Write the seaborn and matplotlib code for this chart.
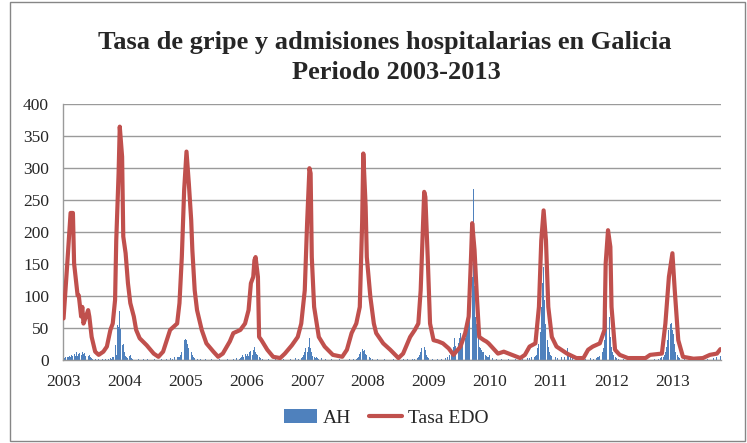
import matplotlib
matplotlib.use("Agg")
import matplotlib.pyplot as plt
import seaborn as sns
from matplotlib.patches import Patch, Rectangle
from matplotlib.lines import Line2D

# weekly series, week 0 = first week of 2003
n_weeks = 562
years = [str(y) for y in range(2003, 2014)]
year_weeks = [0, 52, 104, 156, 208, 260, 312, 364, 416, 468, 520]

# Tasa EDO (week, rate)
tasa_points = [
    (0, 65), (3, 146), (6, 230), (8, 230), (9, 151), (12, 101), (13, 101), (15, 68),
    (16, 83), (17, 57), (18, 62), (21, 78), (22, 68), (24, 36), (27, 13), (30, 8),
    (34, 13), (37, 21), (40, 47), (42, 57), (44, 94), (45, 187), (47, 292), (48, 365),
    (50, 318), (51, 193), (53, 167), (55, 120), (57, 89), (60, 68), (62, 47), (65, 34),
    (71, 23), (77, 10), (81, 5), (85, 13), (91, 47), (97, 57), (99, 89), (101, 161),
    (103, 266), (105, 326), (107, 276), (109, 219), (110, 172), (112, 109), (114, 78),
    (118, 47), (122, 26), (128, 13), (132, 5), (136, 10), (142, 29), (145, 42),
    (151, 47), (155, 57), (158, 78), (160, 120), (162, 130), (163, 156), (164, 161),
    (166, 130), (167, 36), (169, 31), (174, 16), (179, 5), (185, 3), (189, 10),
    (195, 23), (200, 36), (203, 57), (206, 109), (208, 214), (210, 300), (211, 292),
    (212, 161), (214, 83), (218, 36), (223, 21), (230, 8), (238, 5), (242, 16),
    (246, 42), (250, 57), (253, 83), (255, 214), (256, 323), (258, 240), (259, 161),
    (262, 99), (265, 57), (267, 42), (273, 26), (279, 16), (286, 3), (290, 10),
    (296, 36), (300, 47), (303, 57), (305, 109), (307, 214), (308, 263), (309, 255),
    (311, 161), (313, 57), (316, 31), (320, 29), (324, 26), (329, 18), (333, 8),
    (339, 21), (343, 42), (346, 68), (348, 161), (349, 214), (351, 172), (353, 99),
    (355, 36), (359, 31), (361, 29), (363, 26), (367, 18), (371, 10), (376, 13),
    (383, 8), (390, 3), (394, 8), (398, 21), (403, 26), (406, 83), (408, 187),
    (410, 234), (412, 187), (414, 83), (417, 36), (421, 21), (430, 10), (438, 3),
    (444, 3), (448, 16), (452, 21), (458, 26), (462, 47), (463, 151), (465, 203),
    (467, 177), (468, 83), (471, 16), (475, 8), (482, 3), (497, 3), (501, 8),
    (511, 10), (514, 57), (517, 130), (520, 167), (522, 109), (525, 31), (529, 5),
    (538, 2), (546, 3), (552, 8), (558, 10), (561, 17),
]

# AH hospital admissions (week, count)
ah_points = [
    (1, 3), (2, 4), (3, 5), (4, 4), (5, 7), (6, 5), (7, 8), (8, 6), (9, 10), (10, 7),
    (11, 12), (12, 6), (13, 9), (14, 11), (15, 8), (16, 12), (17, 10), (18, 11),
    (19, 7), (20, 12), (21, 6), (22, 8), (23, 4), (24, 3), (25, 2), (27, 1), (30, 1),
    (33, 2), (36, 1), (38, 2),
    (40, 3), (41, 2), (42, 4), (43, 5), (44, 23), (45, 8), (46, 55), (47, 52),
    (48, 76), (49, 49), (50, 23), (51, 25), (52, 13), (53, 6), (54, 4), (55, 3),
    (56, 6), (57, 8), (58, 3), (59, 2), (61, 2), (64, 1), (68, 1), (72, 2), (78, 1),
    (84, 2), (88, 2),
    (91, 3), (93, 2), (95, 4), (97, 5), (98, 4), (99, 5), (100, 8), (101, 12),
    (102, 23), (103, 32), (104, 33), (105, 31), (106, 25), (107, 18), (108, 19),
    (109, 13), (110, 8), (111, 5), (112, 3), (114, 2), (117, 1), (121, 2), (126, 1),
    (133, 1), (140, 2), (145, 2),
    (148, 3), (150, 2), (151, 3), (152, 5), (153, 8), (154, 4), (155, 9), (156, 6),
    (157, 10), (158, 7), (159, 13), (160, 14), (161, 8), (162, 16), (163, 21),
    (164, 12), (165, 9), (166, 8), (167, 5), (168, 3), (170, 2), (175, 1), (181, 1),
    (188, 2), (194, 2), (198, 3),
    (201, 2), (203, 3), (204, 5), (205, 8), (206, 13), (207, 18), (208, 12),
    (209, 20), (210, 34), (211, 18), (212, 13), (213, 6), (214, 4), (215, 3),
    (216, 4), (217, 3), (218, 2), (220, 3), (224, 2), (229, 1), (236, 1), (244, 2),
    (248, 2), (250, 2), (251, 3), (252, 5), (253, 10), (254, 13), (255, 17),
    (256, 14), (257, 15), (258, 10), (259, 8), (260, 5), (261, 4), (262, 3),
    (264, 2), (268, 2), (274, 1), (282, 1), (290, 2), (294, 2),
    (298, 2), (300, 2), (302, 3), (303, 5), (304, 8), (305, 12), (306, 18),
    (307, 29), (308, 21), (309, 16), (310, 8), (311, 5), (312, 3), (315, 2),
    (319, 2), (323, 2), (326, 3), (328, 4),
    (330, 8), (331, 10), (332, 12), (333, 20), (334, 34), (335, 22), (336, 28),
    (337, 26), (338, 35), (339, 42), (340, 30), (341, 28), (342, 25), (343, 35),
    (344, 40), (345, 49), (346, 57), (347, 73), (348, 94), (349, 130), (350, 267),
    (351, 115), (352, 68), (353, 57), (354, 36), (355, 21), (356, 18), (357, 16),
    (358, 12), (359, 13), (360, 8), (361, 6), (362, 5), (363, 4), (364, 8),
    (366, 3), (370, 2), (374, 2), (380, 1), (386, 2), (392, 2), (396, 3),
    (398, 3), (400, 4), (402, 5), (403, 6), (404, 8), (405, 18), (406, 25),
    (407, 44), (408, 83), (409, 120), (410, 145), (411, 94), (412, 57), (413, 31),
    (414, 21), (415, 12), (416, 8), (417, 6), (418, 5), (420, 4), (422, 3),
    (425, 5), (428, 4), (430, 18), (431, 8), (433, 5), (435, 3), (438, 2),
    (442, 2), (446, 2), (450, 3),
    (453, 2), (455, 3), (456, 4), (457, 5), (458, 6), (459, 8), (460, 12),
    (461, 18), (462, 31), (463, 50), (464, 78), (465, 86), (466, 68), (467, 36),
    (468, 21), (469, 12), (470, 8), (471, 5), (472, 3), (474, 2), (478, 2),
    (485, 1), (492, 1), (500, 2), (505, 2),
    (508, 2), (510, 3), (511, 4), (512, 5), (513, 8), (514, 12), (515, 21),
    (516, 31), (517, 47), (518, 57), (519, 58), (520, 47), (521, 40), (522, 25),
    (523, 12), (524, 8), (525, 4), (526, 3), (530, 2), (536, 1), (544, 2),
    (550, 2), (555, 3), (558, 4), (561, 6),
]

tasa_weeks, tasa_values = map(list, zip(*tasa_points))
ah_weeks, ah_values = map(list, zip(*ah_points))

blue = "#4F81BD"
red = "#C0504D"
grey = "#9A9A9A"

sns.set_style("white")
plt.rcParams["font.family"] = ["Liberation Serif", "DejaVu Serif"]

fig = plt.figure(figsize=(7.47, 4.43), dpi=100)
ax = fig.add_axes([0.0843, 0.1874, 0.8809, 0.5772])

sns.barplot(x=ah_weeks, y=ah_values, native_scale=True, color=blue,
            saturation=1, errorbar=None, linewidth=0, ax=ax, zorder=2)
sns.lineplot(x=tasa_weeks, y=tasa_values, color=red, linewidth=3,
             solid_joinstyle="round", solid_capstyle="round", ax=ax, zorder=3)

ax.set_xlim(-0.5, n_weeks - 0.5)
ax.set_ylim(0, 400)
ax.set_yticks(range(0, 401, 50))
ax.set_xticks(year_weeks)
ax.set_xticklabels(years)
ax.set_xticks([-0.5 + 10 * k for k in range(57)], minor=True)
ax.set_xlabel("")
ax.set_ylabel("")

ax.yaxis.grid(True, color=grey, linewidth=1)
ax.xaxis.grid(False)
ax.set_axisbelow(True)
for side in ["top", "right"]:
    ax.spines[side].set_visible(False)
for side in ["left", "bottom"]:
    ax.spines[side].set_color(grey)
    ax.spines[side].set_linewidth(1)

ax.tick_params(axis="y", which="major", length=4, color=grey, labelsize=12.5, pad=6)
ax.tick_params(axis="x", which="major", length=0, labelsize=12.5, pad=10)
ax.tick_params(axis="x", which="minor", length=5, color=grey, direction="out")

fig.text(0.515, 0.8894, "Tasa de gripe y admisiones hospitalarias en Galicia",
         ha="center", va="baseline", fontsize=19, fontweight="bold")
fig.text(0.531, 0.8217, "Periodo 2003-2013",
         ha="center", va="baseline", fontsize=19, fontweight="bold")

handles = [Patch(facecolor=blue, edgecolor="none", label="AH"),
           Line2D([0], [0], color=red, linewidth=3, label="Tasa EDO")]
fig.legend(handles=handles, loc="center", bbox_to_anchor=(0.517, 0.056), ncol=2,
           frameon=False, fontsize=14, handlelength=1.7, handletextpad=0.3,
           columnspacing=0.9)

fig.patches.append(Rectangle((10 / 747, 2 / 443), 735 / 747, 439 / 443,
                             transform=fig.transFigure, fill=False,
                             edgecolor="#868686", linewidth=1))

fig.savefig("out.png", dpi=100)
